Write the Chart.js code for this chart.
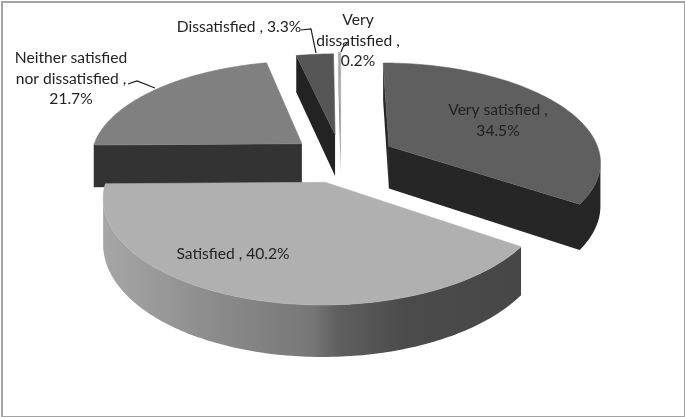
<!DOCTYPE html>
<html>
<head>
<meta charset="utf-8">
<style>
    html, body { margin: 0; padding: 0; background: #fff; }
    #frame { position: absolute; left: 1px; top: 1px; width: 681px; height: 413px; border: 2px solid #a3a3a3; }
    #pie { position: absolute; left: 0; top: 0; }
</style>
<script src="https://cdn.jsdelivr.net/npm/chart.js@4"></script>
</head>
<body>
<div id="frame"></div>
<canvas id="pie" width="685" height="417"></canvas>
<script>
    const categories = ['Very satisfied', 'Satisfied', 'Neither satisfied nor dissatisfied', 'Dissatisfied', 'Very dissatisfied'];
    const shares = [34.5, 40.2, 21.7, 3.3, 0.2];

    // Slice styling, same order as the categories.
    const explode = [0.26, 0.25, 0.24, 0.25, 0.27];
    const topColors = ['#5f5f5f', '#b0b0b0', '#808080', '#565656', '#a8a8a8'];
    const wallColors = ['#262626', '#4a4a4a', '#333333', '#232323', '#8a8a8a'];
    const satisfiedRim = [[0, '#a6a6a6'], [0.25, '#8d8d8d'], [0.5, '#777777'], [0.56, '#606060'], [0.72, '#4b4b4b'], [1, '#474747']];

    // Where the labels sit, and how wide a line may get before it wraps.
    const labelSpots = [
        {x: 498, y: 110, wrap: 118},
        {x: 233, y: 254, wrap: 200},
        {x: 71, y: 58, wrap: 128},
        {x: 239, y: 27, wrap: 200},
        {x: 358, y: 20, wrap: 100}
    ];
    const leaders = [
        [[128, 84], [137, 81], [155, 88]],
        [[301, 30], [311, 29], [316, 53]],
        [[341, 52], [343, 47], [347, 43]]
    ];

    // Ground plane to screen, the far side of the pie shrinks a bit.
    const view = {spreadX: 212, spreadY: 98, persp: 0.14, depth: 43};

    function project(arc, px, py) {
        const w = 1 - view.persp * py;
        return {
            x: arc.x + view.spreadX * px / w,
            y: arc.y + view.spreadY * py / w,
            drop: view.depth / w
        };
    }

    function outline(arc, index) {
        const mid = (arc.startAngle + arc.endAngle) / 2;
        const ox = explode[index] * Math.cos(mid);
        const oy = explode[index] * Math.sin(mid);
        const pts = [project(arc, ox, oy)];
        const steps = Math.max(2, Math.ceil((arc.endAngle - arc.startAngle) * 60));
        for (let i = 0; i <= steps; i++) {
            const a = arc.startAngle + (arc.endAngle - arc.startAngle) * i / steps;
            pts.push(project(arc, ox + Math.cos(a), oy + Math.sin(a)));
        }
        return pts;
    }

    // Wall under one run of outline points, filled as a single shape so no seams show.
    function fillWall(ctx, run, fill) {
        ctx.beginPath();
        run.forEach((p, i) => i ? ctx.lineTo(p.x, p.y) : ctx.moveTo(p.x, p.y));
        for (let i = run.length - 1; i >= 0; i--) ctx.lineTo(run[i].x, run[i].y + run[i].drop);
        ctx.closePath();
        ctx.fillStyle = fill;
        ctx.fill();
    }

    function drawSlice(ctx, arc, index) {
        const pts = outline(arc, index);
        let fill = wallColors[index];
        if (index === 1) {
            const xs = pts.map(p => p.x);
            const grad = ctx.createLinearGradient(Math.min(...xs), 0, Math.max(...xs), 0);
            satisfiedRim.forEach(s => grad.addColorStop(s[0], s[1]));
            fill = grad;
        }
        // Only walls running right to left along the outline face the viewer.
        let run = [];
        for (let i = 0; i < pts.length; i++) {
            const a = pts[i];
            const b = pts[(i + 1) % pts.length];
            if (b.x < a.x) {
                if (!run.length) run.push(a);
                run.push(b);
            } else if (run.length) {
                fillWall(ctx, run, fill);
                run = [];
            }
        }
        if (run.length) fillWall(ctx, run, fill);
        ctx.beginPath();
        pts.forEach((p, i) => i ? ctx.lineTo(p.x, p.y) : ctx.moveTo(p.x, p.y));
        ctx.closePath();
        ctx.fillStyle = topColors[index];
        ctx.strokeStyle = topColors[index];
        ctx.lineWidth = 0.6;
        ctx.lineJoin = 'round';
        ctx.fill();
        ctx.stroke();
    }

    function wrapLines(ctx, text, width) {
        const lines = [];
        let line = '';
        text.split(' ').forEach(word => {
            const next = line ? line + ' ' + word : word;
            if (line && ctx.measureText(next).width > width) {
                lines.push(line);
                line = word;
            } else {
                line = next;
            }
        });
        lines.push(line);
        return lines;
    }

    const pie3d = {
        id: 'pie3d',
        beforeDatasetDraw(chart, args) {
            const ctx = chart.ctx;
            const arcs = chart.getDatasetMeta(args.index).data;
            const order = arcs.map((a, i) => i).sort((i, j) => {
                return Math.sin((arcs[i].startAngle + arcs[i].endAngle) / 2) -
                       Math.sin((arcs[j].startAngle + arcs[j].endAngle) / 2);
            });
            ctx.save();
            order.forEach(i => drawSlice(ctx, arcs[i], i));
            ctx.restore();
            return false;
        },
        afterDatasetsDraw(chart) {
            const ctx = chart.ctx;
            ctx.save();
            ctx.strokeStyle = '#1a1a1a';
            ctx.lineWidth = 1.2;
            leaders.forEach(l => {
                ctx.beginPath();
                l.forEach((p, i) => i ? ctx.lineTo(p[0], p[1]) : ctx.moveTo(p[0], p[1]));
                ctx.stroke();
            });
            ctx.font = '15.6px Lato';
            ctx.fillStyle = '#222';
            ctx.textAlign = 'center';
            ctx.textBaseline = 'middle';
            categories.forEach((cat, i) => {
                const spot = labelSpots[i];
                const lines = wrapLines(ctx, `${cat} , ${shares[i]}%`, spot.wrap);
                lines.forEach((line, n) => ctx.fillText(line, spot.x, spot.y + n * 20.5));
            });
            ctx.restore();
        }
    };

    new Chart(document.getElementById('pie'), {
        type: 'pie',
        data: {
            labels: categories,
            datasets: [{
                data: shares,
                backgroundColor: topColors,
                borderWidth: 0
            }]
        },
        options: {
            responsive: false,
            animation: false,
            radius: 130,
            layout: {padding: {left: 0, right: 3, top: 0, bottom: 101}},
            plugins: {legend: {display: false}, tooltip: {enabled: false}}
        },
        plugins: [pie3d]
    });
</script>
</body>
</html>
